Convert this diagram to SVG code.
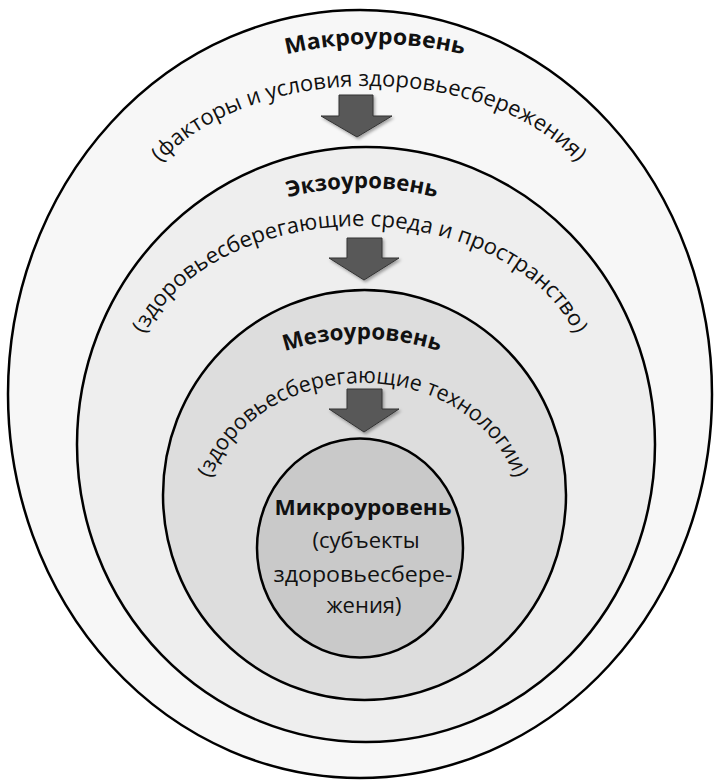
<svg xmlns="http://www.w3.org/2000/svg" xmlns:xlink="http://www.w3.org/1999/xlink" width="714" height="780" viewBox="0 0 714 780">
  <style>
    .ring { stroke: #000; stroke-width: 2.5; }
    .head { font-family: "Open Sans", "Noto Sans", sans-serif; font-weight: bold; font-size: 22px; fill: #111; }
    .sub { font-family: "Open Sans", "Noto Sans", sans-serif; font-size: 22px; fill: #111; }
    .arrow { fill: #595959; stroke: #333; stroke-width: 1; filter: url(#sh); }
  </style>
  <defs>
    <filter id="sh" x="-30%" y="-30%" width="160%" height="160%">
      <feDropShadow dx="1.5" dy="2" stdDeviation="1.5" flood-color="#000" flood-opacity="0.35"/>
    </filter>
    <path id="pMacroH" d="M 157 112.7 A 380 380 0 0 1 593 112.7"/>
    <path id="pMacroS" d="M 133 231 A 236 145 0 0 1 605 231"/>
    <path id="pExoH" d="M 169.2 258.2 A 300 300 0 0 1 554.8 258.2"/>
    <path id="pExoS" d="M 134.2 381.6 A 225.8 155.6 0 0 1 585.8 381.6"/>
    <path id="pMesoH" d="M 185.2 412.2 A 250 250 0 0 1 538.8 412.2"/>
    <path id="pMesoS" d="M 204.5 516 A 158.5 133 0 0 1 521.5 516"/>
  </defs>
  <rect width="714" height="780" fill="#fff"/>

  <g id="level-macro">
    <ellipse class="ring" cx="360" cy="394" rx="352" ry="384" fill="#f7f7f7"/>
    <text class="head"><textPath xlink:href="#pMacroH" href="#pMacroH" startOffset="50%" text-anchor="middle" textLength="179" lengthAdjust="spacingAndGlyphs">Макроуровень</textPath></text>
    <text class="sub"><textPath xlink:href="#pMacroS" href="#pMacroS" startOffset="50%" text-anchor="middle" textLength="456" lengthAdjust="spacingAndGlyphs">(факторы и условия здоровьесбережения)</textPath></text>
  </g>

  <g id="level-exo">
    <ellipse class="ring" cx="366" cy="444.5" rx="289" ry="297.5" fill="#eeeeee"/>
    <text class="head"><textPath xlink:href="#pExoH" href="#pExoH" startOffset="50%" text-anchor="middle" textLength="150" lengthAdjust="spacingAndGlyphs">Экзоуровень</textPath></text>
    <text class="sub"><textPath xlink:href="#pExoS" href="#pExoS" startOffset="50%" text-anchor="middle" textLength="506" lengthAdjust="spacingAndGlyphs">(здоровьесберегающие среда и пространство)</textPath></text>
  </g>

  <g id="level-meso">
    <ellipse class="ring" cx="364.5" cy="495" rx="201.5" ry="205" fill="#dddddd"/>
    <text class="head"><textPath xlink:href="#pMesoH" href="#pMesoH" startOffset="50%" text-anchor="middle" textLength="157" lengthAdjust="spacingAndGlyphs">Мезоуровень</textPath></text>
    <text class="sub"><textPath xlink:href="#pMesoS" href="#pMesoS" startOffset="50%" text-anchor="middle" textLength="382" lengthAdjust="spacingAndGlyphs">(здоровьесберегающие технологии)</textPath></text>
  </g>

  <g id="level-micro">
    <ellipse class="ring" cx="360" cy="548" rx="103" ry="109.5" fill="#c9c9c9"/>
    <text class="head" x="363" y="515" text-anchor="middle" textLength="177" lengthAdjust="spacingAndGlyphs">Микроуровень</text>
    <text class="sub" x="366" y="548" text-anchor="middle">(субъекты</text>
    <text class="sub" x="363" y="582" text-anchor="middle" textLength="179" lengthAdjust="spacingAndGlyphs">здоровьесбере-</text>
    <text class="sub" x="364" y="613" text-anchor="middle">жения)</text>
  </g>

  <g id="connectors">
    <polygon class="arrow" points="339,95 373,95 373,116 392,116 357,137 321,116 339,116"/>
    <polygon class="arrow" points="347,238 382,238 382,258 399,258 364,280 329,258 347,258"/>
    <polygon class="arrow" points="347,389 382,389 382,409 399,409 364,432 329,409 347,409"/>
  </g>
</svg>
